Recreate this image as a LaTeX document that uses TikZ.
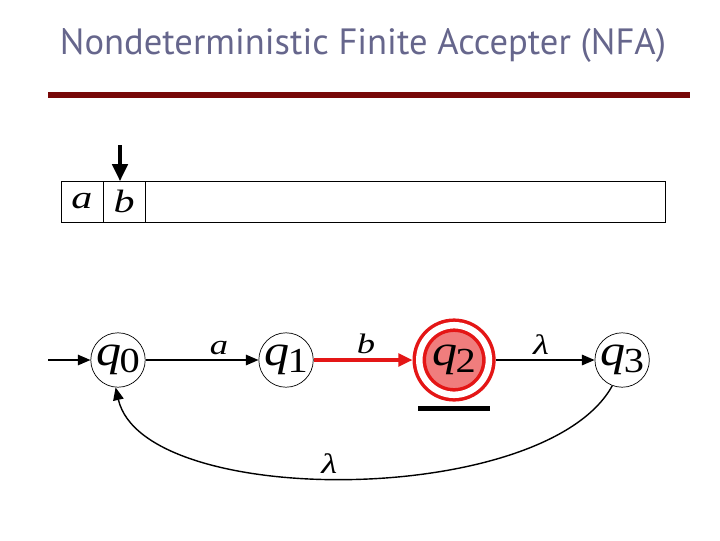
\documentclass[tikz,border=0pt]{standalone}
\usepackage{fontspec}
\setmainfont{Liberation Serif}
\newfontfamily\titlefont{PT Sans}
\usepackage{graphicx}
\usepackage{tikz}
\usetikzlibrary{automata,positioning,arrows.meta}
\usepackage{xcolor}
\definecolor{titlegray}{RGB}{102,102,140}
\definecolor{barred}{RGB}{120,8,8}
\definecolor{ringred}{RGB}{228,22,22}
\definecolor{statefill}{RGB}{240,125,125}
\newcommand{\qlab}[1]{\scalebox{1.15}[1]{\fontsize{31}{31}\selectfont\textit{q}\kern-1pt\raisebox{-5pt}{\fontsize{25}{25}\selectfont #1}}}
\newcommand{\sym}[1]{\scalebox{1.3}[1]{\fontsize{20}{20}\selectfont\textit{#1}}}
\newcommand{\tapesym}[1]{\scalebox{1.3}[1]{\fontsize{23}{23}\selectfont\textit{#1}}}
\tikzset{
  nfastate/.style={state,minimum size=1.36cm,inner sep=0pt,line width=0.5pt},
  curstate/.style={state,minimum size=1.74cm,inner sep=0pt,draw=ringred,fill=statefill,line width=2.5pt,double=white,double distance=4.6pt,outer sep=4.8pt},
  tapecell/.style={draw,rectangle,minimum width=1.05cm,minimum height=1.025cm,inner sep=0pt,outer sep=0pt,line width=0.6pt},
  redmove/.style={draw=ringred,line width=2.2pt,-{Triangle[length=10pt,width=9pt]}},
  every edge/.style={draw,line width=1pt,-{Triangle[length=9pt,width=7.5pt]}},
}
\begin{document}
\begin{tikzpicture}[x=0.025cm,y=-0.025cm,node distance=4.2cm]
\useasboundingbox (0,0) rectangle (720,540);

% title and rule
\node[text=titlegray,font=\titlefont\fontsize{26}{30}\selectfont] (title) at (363,46) {Nondeterministic Finite Accepter (NFA)};
\draw[barred,line width=3.6pt] (48,95) -- (690,95);

% tape
\node[tapecell] (ca) at (82,201.5) {\tapesym{a}};
\node[tapecell,right=0pt of ca] (cb) {\tapesym{b}};
\node[tapecell,minimum width=13cm,right=0pt of cb] (rest) {};
\coordinate (head) at (120,145);
\draw[line width=2.2pt,-{Triangle[length=12pt,width=11pt]}] (head) -- (head |- cb.north);

% states
\node[nfastate] (q0) at (118,360) {\qlab{0}};
\node[nfastate,right of=q0] (q1) {\qlab{1}};
\node[curstate,right of=q1] (q2) {\qlab{2}};
\node[nfastate,right of=q2] (q3) {\qlab{3}};
\node[fill=black,minimum width=1.8cm,minimum height=0.125cm,inner sep=0pt,below=0.1cm of q2] (cur) {};
\coordinate (init) at (48,360);

\path
(init) edge (q0)
(q0) edge node[pos=0.65,above] {\sym{a}} (q1)
(q1) edge[redmove] node[pos=0.53,above] {\sym{b}} (q2)
(q2) edge node[pos=0.46,above] {\sym{λ}} (q3);

\draw[line width=1pt,-{Triangle[length=9pt,width=7.5pt]}] (q3.-111) .. controls +(-67,122) and +(28,122) .. (q0.-95) node[pos=0.53,above=-1pt] {\sym{λ}};

\end{tikzpicture}
\end{document}
